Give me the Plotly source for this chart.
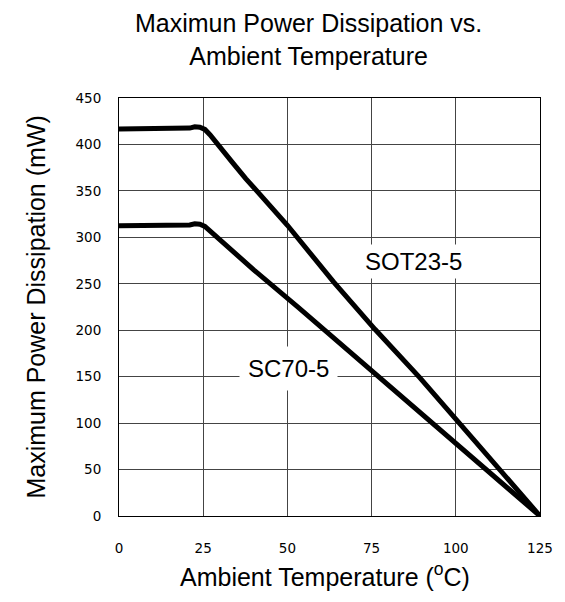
import plotly.graph_objects as go

# Data
temp_sot = [0, 19, 21, 22.5, 24, 25.5, 27, 33.6, 37.7, 50, 63.7, 76, 89.3, 104.4, 125]
pd_sot = [416.7, 416.7, 417.6, 419.0, 418.6, 416.2, 410.5, 381, 363, 313, 252, 201, 149, 86, 0]

temp_sc = [0, 19, 21, 22.5, 24, 25.5, 27, 29.8, 40, 53.4, 75, 100, 125]
pd_sc = [312.5, 312.5, 313.3, 314.5, 314.1, 311.8, 307.0, 298.5, 265, 224, 156.5, 78, 0]

x_ticks = [0, 25, 50, 75, 100, 125]
y_ticks = [0, 50, 100, 150, 200, 250, 300, 350, 400, 450]

label_font = "Liberation Sans, Arial, sans-serif"
tick_font = "DejaVu Sans, Verdana, sans-serif"

W, H = 557, 594

fig = go.Figure()
fig.add_trace(go.Scatter(x=temp_sot, y=pd_sot, mode="lines",
                         line=dict(color="black", width=5), name="SOT23-5"))
fig.add_trace(go.Scatter(x=temp_sc, y=pd_sc, mode="lines",
                         line=dict(color="black", width=5), name="SC70-5"))

fig.update_layout(
    width=W, height=H,
    margin=dict(l=111, r=22, t=90, b=86),
    paper_bgcolor="white", plot_bgcolor="white",
    showlegend=False,
    title=dict(text="Maximun Power Dissipation vs.<br>Ambient Temperature",
               x=(310 - 119) / 424, xref="paper", xanchor="center",
               y=1 - 24 / H, yref="container", yanchor="middle",
               font=dict(family=label_font, size=25, color="black")),
)

fig.update_xaxes(range=[0, 125], tickvals=x_ticks, showgrid=True,
                 gridcolor="#444", gridwidth=1, showline=True, linecolor="black",
                 linewidth=1, mirror=True, zeroline=False, ticks="",
                 ticklabelstandoff=20,
                 tickfont=dict(family=tick_font, size=13.5, color="black"))
fig.update_yaxes(range=[0, 450], tickvals=y_ticks, showgrid=True,
                 gridcolor="#444", gridwidth=1, showline=True, linecolor="black",
                 linewidth=1, mirror=True, zeroline=False, ticks="",
                 ticklabelstandoff=14,
                 tickfont=dict(family=tick_font, size=13.5, color="black"))

fig.add_annotation(x=(326 - 119) / 424, y=-(575 - 516.5) / 418, xref="paper", yref="paper",
                   text="Ambient Temperature (<sup>o</sup>C)", showarrow=False,
                   xanchor="center", yanchor="middle",
                   font=dict(family=label_font, size=25, color="black"))
fig.add_annotation(x=(35 - 119) / 424, y=0.5, xref="paper", yref="paper",
                   text="Maximum Power Dissipation (mW)", showarrow=False,
                   textangle=-90, xanchor="center", yanchor="middle",
                   font=dict(family=label_font, size=25, color="black"))

fig.add_annotation(x=87.3, y=274, text="SOT23-5", showarrow=False,
                   bgcolor="white", borderpad=3,
                   font=dict(family=label_font, size=24, color="black"))
fig.add_annotation(x=50.4, y=158.8, text="SC70-5", showarrow=False,
                   bgcolor="white", borderpad=8,
                   font=dict(family=label_font, size=24, color="black"))

fig.write_html("out.html")
